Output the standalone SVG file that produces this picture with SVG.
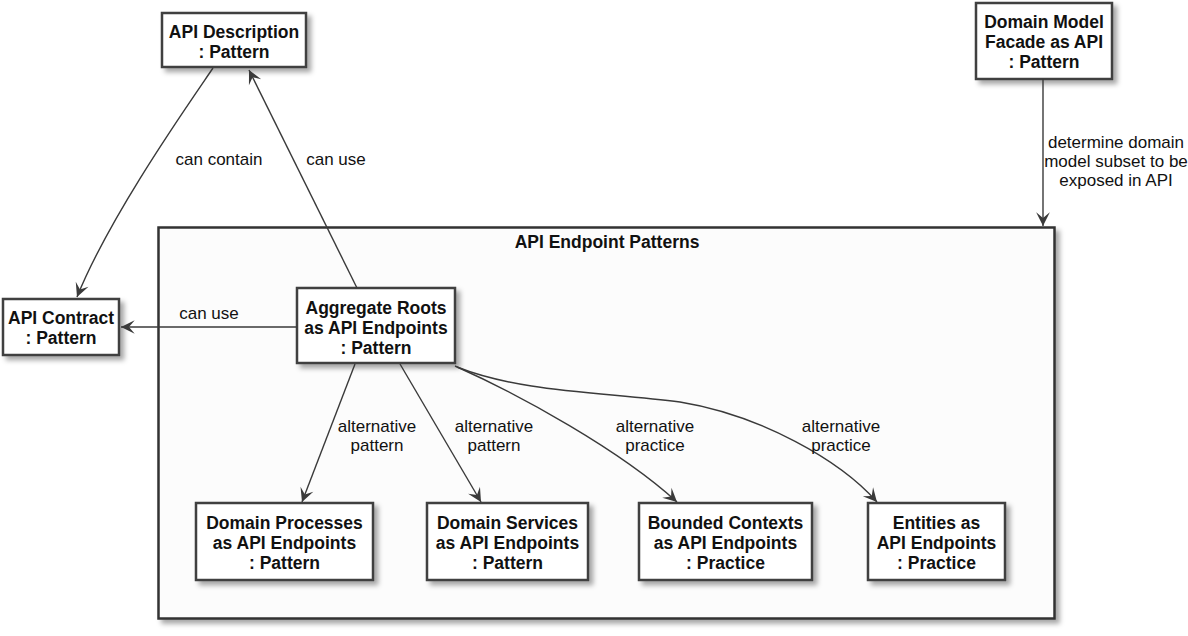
<svg xmlns="http://www.w3.org/2000/svg" width="1188" height="636" viewBox="0 0 1188 636">
<style>
.box{fill:#ffffff;stroke:#404040;stroke-width:2.5;filter:url(#sh)}
.cont{fill:#fcfcfc;stroke:#333333;stroke-width:2.5;filter:url(#sh)}
.t{font-family:"Liberation Sans",Arial,sans-serif;font-weight:bold;font-size:17.5px;fill:#111;text-anchor:middle}
.l{font-family:"Liberation Sans",Arial,sans-serif;font-size:17px;fill:#111;text-anchor:middle}
.e{fill:none;stroke:#3a3a3a;stroke-width:1.4;marker-end:url(#arr)}
</style>
<defs>
<filter id="sh" x="-10%" y="-10%" width="130%" height="140%">
<feDropShadow dx="4" dy="4" stdDeviation="2.5" flood-color="#000" flood-opacity="0.35"/>
</filter>
<marker id="arr" markerUnits="userSpaceOnUse" markerWidth="16" markerHeight="16" viewBox="-13 -7 14 14" refX="0" refY="0" orient="auto">
<path d="M0,0 L-12,-6 L-7,0 L-12,6 Z" fill="#3a3a3a"/>
</marker>
</defs>
<rect width="1188" height="636" fill="#ffffff"/>
<g id="container">
<rect class="cont" x="158.5" y="227.5" width="896" height="391"/>
<text class="t" x="607" y="248">API Endpoint Patterns</text>
</g>
<g id="api-description">
<rect class="box" x="162" y="13" width="144" height="54"/>
<text class="t" x="234" y="38">API Description</text>
<text class="t" x="234" y="58">: Pattern</text>
</g>
<g id="domain-model-facade">
<rect class="box" x="976" y="3" width="136" height="76"/>
<text class="t" x="1044" y="28">Domain Model</text>
<text class="t" x="1044" y="48">Facade as API</text>
<text class="t" x="1044" y="68">: Pattern</text>
</g>
<g id="api-contract">
<rect class="box" x="3" y="299" width="116" height="56"/>
<text class="t" x="61" y="324">API Contract</text>
<text class="t" x="61" y="344">: Pattern</text>
</g>
<g id="aggregate-roots">
<rect class="box" x="297" y="288" width="158" height="75"/>
<text class="t" x="376" y="314">Aggregate Roots</text>
<text class="t" x="376" y="334">as API Endpoints</text>
<text class="t" x="376" y="354">: Pattern</text>
</g>
<g id="domain-processes">
<rect class="box" x="196" y="503" width="177" height="77"/>
<text class="t" x="284.5" y="529">Domain Processes</text>
<text class="t" x="284.5" y="549">as API Endpoints</text>
<text class="t" x="284.5" y="569">: Pattern</text>
</g>
<g id="domain-services">
<rect class="box" x="427" y="503" width="161" height="77"/>
<text class="t" x="507.5" y="529">Domain Services</text>
<text class="t" x="507.5" y="549">as API Endpoints</text>
<text class="t" x="507.5" y="569">: Pattern</text>
</g>
<g id="bounded-contexts">
<rect class="box" x="639" y="503" width="173" height="77"/>
<text class="t" x="725.5" y="529">Bounded Contexts</text>
<text class="t" x="725.5" y="549">as API Endpoints</text>
<text class="t" x="725.5" y="569">: Practice</text>
</g>
<g id="entities">
<rect class="box" x="868" y="503" width="137" height="77"/>
<text class="t" x="936.5" y="529">Entities as</text>
<text class="t" x="936.5" y="549">API Endpoints</text>
<text class="t" x="936.5" y="569">: Practice</text>
</g>
<g id="connectors">
<path class="e" d="M357,288 L249,70"/>
<text class="l" x="336" y="165">can use</text>
<path class="e" d="M213,68 C190,102 110,215 77,297"/>
<text class="l" x="219" y="165">can contain</text>
<path class="e" d="M297,327 L121,327"/>
<text class="l" x="209" y="319">can use</text>
<path class="e" d="M1043,79 L1043,226"/>
<text class="l" x="1116" y="148">determine domain</text>
<text class="l" x="1116" y="167">model subset to be</text>
<text class="l" x="1116" y="186">exposed in API</text>
<path class="e" d="M355,364 L302,502"/>
<text class="l" x="377" y="432">alternative</text>
<text class="l" x="377" y="451">pattern</text>
<path class="e" d="M400,364 L481,502"/>
<text class="l" x="494" y="432">alternative</text>
<text class="l" x="494" y="451">pattern</text>
<path class="e" d="M455,366 C520,395 620,450 677,502"/>
<text class="l" x="655" y="432">alternative</text>
<text class="l" x="655" y="451">practice</text>
<path class="e" d="M457,367 C520,392 600,392 680,402 C760,415 840,460 877,502"/>
<text class="l" x="841" y="432">alternative</text>
<text class="l" x="841" y="451">practice</text>
</g>
</svg>
